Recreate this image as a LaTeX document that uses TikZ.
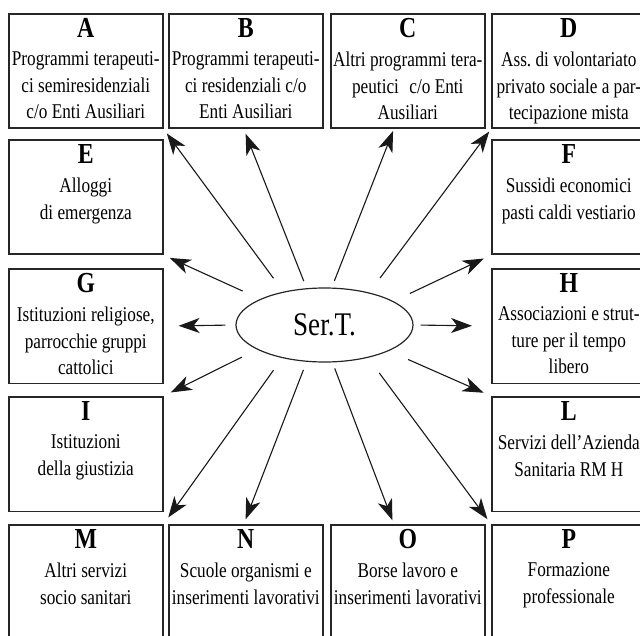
\documentclass[tikz,border=0pt]{standalone}
\usepackage{fontspec}
\setmainfont{Liberation Serif}[FakeStretch=0.82]
\usetikzlibrary{arrows.meta,shapes.geometric}
\frenchspacing
\begin{document}
\begin{tikzpicture}[
  x=0.5pt, y=-0.5pt,
  box/.style = {
    draw=black!85,
    line width=0.8pt,
    shape=rectangle,
    anchor=north west,
    minimum width=77pt,
    minimum height=57.25pt,
    inner sep=0pt
  },
  head/.style = {anchor=base, inner sep=0pt, font=\bfseries\fontsize{14.5}{14.5}\selectfont},
  body/.style = {anchor=north, inner sep=0pt, align=center, font=\fontsize{10.5}{13.25}\selectfont},
  hub/.style = {
    draw=black!85,
    line width=0.6pt,
    shape=ellipse,
    minimum width=88.5pt,
    minimum height=37pt,
    inner sep=0pt,
    font=\fontsize{16.5}{16.5}\selectfont
  },
  link/.style = {-{Stealth[length=10.5pt,width=7.5pt,inset=3pt]}, line width=0.55pt, black!90},
]
  \useasboundingbox (0,0) rectangle (640,635);
  \clip (0,0) rectangle (640,635);

  % top row
  \node (a)[box] at (8,13) {};
  \node (ahead)[head] at ([yshift=-12.2pt]a.north) {A};
  \node (atext)[body] at ([yshift=-19.3pt]a.north) {Programmi terapeuti-\\ci semiresidenziali\\c/o Enti Ausiliari};
  \node (b)[box] at (168,13) {};
  \node (bhead)[head] at ([yshift=-12.2pt]b.north) {B};
  \node (btext)[body] at ([yshift=-19.3pt]b.north) {Programmi terapeuti-\\ci residenziali c/o\\Enti Ausiliari};
  \node (c)[box] at (330,13) {};
  \node (chead)[head] at ([yshift=-12.2pt]c.north) {C};
  \node (ctext)[body] at ([yshift=-19.3pt]c.north) {Altri programmi tera-\\peutici\enspace c/o Enti\\Ausiliari};
  \node (d)[box] at (491,13) {};
  \node (dhead)[head] at ([yshift=-12.2pt]d.north) {D};
  \node (dtext)[body] at ([yshift=-19.3pt]d.north) {Ass. di volontariato\\privato sociale a par-\\tecipazione mista};

  % side columns
  \node (e)[box] at (8,139) {};
  \node (ehead)[head] at ([yshift=-12.2pt]e.north) {E};
  \node (etext)[body] at ([yshift=-19.3pt]e.north) {Alloggi\\di emergenza};
  \node (f)[box] at (491,139) {};
  \node (fhead)[head] at ([yshift=-12.2pt]f.north) {F};
  \node (ftext)[body] at ([yshift=-19.3pt]f.north) {Sussidi economici\\pasti caldi vestiario};
  \node (g)[box] at (8,268) {};
  \node (ghead)[head] at ([yshift=-12.2pt]g.north) {G};
  \node (gtext)[body] at ([yshift=-19.3pt]g.north) {Istituzioni religiose,\\parrocchie gruppi\\cattolici};
  \node (h)[box] at (491,268) {};
  \node (hhead)[head] at ([yshift=-12.2pt]h.north) {H};
  \node (htext)[body] at ([yshift=-19.3pt]h.north) {Associazioni e strut-\\ture per il tempo\\libero};
  \node (i)[box] at (8,396) {};
  \node (ihead)[head] at ([yshift=-12.2pt]i.north) {I};
  \node (itext)[body] at ([yshift=-19.3pt]i.north) {Istituzioni\\della giustizia};
  \node (l)[box] at (491,396) {};
  \node (lhead)[head] at ([yshift=-12.2pt]l.north) {L};
  \node (ltext)[body] at ([yshift=-19.3pt]l.north) {Servizi dell'Azienda\\Sanitaria RM H};

  % bottom row
  \node (m)[box] at (8,524) {};
  \node (mhead)[head] at ([yshift=-12.2pt]m.north) {M};
  \node (mtext)[body] at ([yshift=-19.3pt]m.north) {Altri servizi\\socio sanitari};
  \node (n)[box] at (168,524) {};
  \node (nhead)[head] at ([yshift=-12.2pt]n.north) {N};
  \node (ntext)[body] at ([yshift=-19.3pt]n.north) {Scuole organismi e\\inserimenti lavorativi};
  \node (o)[box] at (330,524) {};
  \node (ohead)[head] at ([yshift=-12.2pt]o.north) {O};
  \node (otext)[body] at ([yshift=-19.3pt]o.north) {Borse lavoro e\\inserimenti lavorativi};
  \node (p)[box] at (491,524) {};
  \node (phead)[head] at ([yshift=-12.2pt]p.north) {P};
  \node (ptext)[body] at ([yshift=-19.3pt]p.north) {Formazione\\professionale};

  \node (sert)[hub] at (324.5,325) {Ser.T.};

  \draw[link, shorten <=8.3pt, shorten >=2.7pt] (sert.141.7) -- (a.south east);
  \draw[link, shorten <=3.8pt, shorten >=2.5pt] (sert.116.6) -- ([xshift=-1pt]b.south);
  \draw[link, shorten <=3.6pt, shorten >=1pt] (sert.79.1) -- ([xshift=-7pt]c.south);
  \draw[link, shorten <=9pt, shorten >=1.5pt] (sert.36.8) -- (d.south west);
  \draw[link, shorten <=9.6pt, shorten >=3.4pt] (sert.158) -- (e.south east);
  \draw[link, shorten <=9pt, shorten >=4pt] (sert.19.5) -- (f.south west);
  \draw[link, shorten <=5pt, shorten >=7.5pt] (sert.180) -- (g.east);
  \draw[link, shorten <=3.5pt, shorten >=9.5pt] (sert.0) -- (h.west);
  \draw[link, shorten <=8.5pt, shorten >=4pt] (sert.200.8) -- (i.north east);
  \draw[link, shorten <=10.5pt, shorten >=4pt] (sert.338.9) -- (l.north west);
  \draw[link, shorten <=7.4pt, shorten >=4pt] (sert.218.7) -- (m.north east);
  \draw[link, shorten <=4.3pt, shorten >=2.5pt] (sert.244) -- ([xshift=-1pt]n.north);
  \draw[link, shorten <=3.2pt, shorten >=2pt] (sert.282.5) -- ([xshift=-7pt]o.north);
  \draw[link, shorten <=9.4pt, shorten >=3pt] (sert.323.7) -- (p.north west);
\end{tikzpicture}
\end{document}
